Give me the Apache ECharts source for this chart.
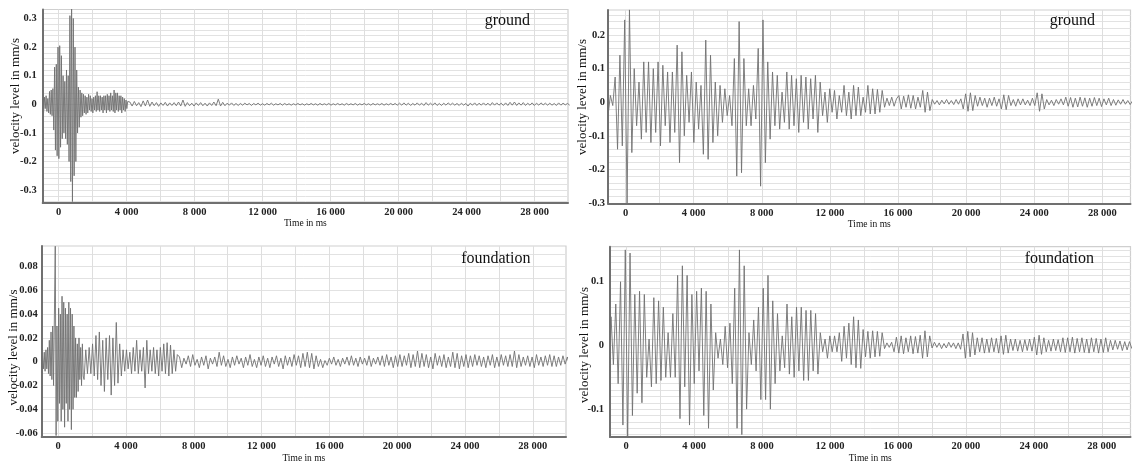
<!DOCTYPE html>
<html><head><meta charset="utf-8">
<script src="https://cdn.jsdelivr.net/npm/echarts@6/dist/echarts.min.js"></script>
<style>html,body{margin:0;padding:0;background:#fff}#c{width:1132px;height:464px}</style>
</head><body><div id="c"></div><script>
// ---------- tick labels ----------
const xTickLabels = [0, 4000, 8000, 12000, 16000, 20000, 24000, 28000];
const groundLeftYLabels = [-0.3, -0.2, -0.1, 0, 0.1, 0.2, 0.3];
const groundRightYLabels = [-0.3, -0.2, -0.1, 0, 0.1, 0.2];
const foundationLeftYLabels = [-0.06, -0.04, -0.02, 0, 0.02, 0.04, 0.06, 0.08];
const foundationRightYLabels = [-0.1, 0, 0.1];
const panelTitles = ['ground', 'ground', 'foundation', 'foundation'];
const xName = 'Time in ms';
const yName = 'velocity level in mm/s';

// ---------- series values (velocity in mm/s, uniform time steps in ms) ----------
// ground, left panel: burst from -940 ms every 50 ms
const groundLeftBurstStart = -940, groundLeftBurstStep = 50;
const groundLeftBurst = [
 0.02,-0.03,0.025,-0.015,0.03,-0.025,0.02,-0.03,0.045,-0.035,0.05,-0.04,
 0.055,-0.09,0.13,-0.16,0.14,-0.18,0.2,-0.19,0.205,-0.15,0.17,-0.12,
 0.1,-0.1,0.08,-0.12,0.12,-0.14,0.1,-0.2,0.31,-0.27,0.335,-0.34,0.3,-0.25,0.2,-0.2,
 0.12,-0.1,0.06,-0.08,0.05,-0.045,0.04,-0.04,0.035,-0.03,0.03,
 -0.035,0.025,-0.03,0.035,-0.02,0.03,-0.025,0.02,-0.03,0.025,
 -0.02,0.03,-0.025,0.044,-0.02,0.03,-0.025,0.03,-0.02,0.025,
 -0.03,0.03,-0.02,0.03,-0.03,0.035,-0.02,0.03,-0.025,0.04,
 -0.02,0.03,-0.025,0.05,-0.03,0.04,-0.02,0.04,-0.025,0.03,
 -0.02,0.03,-0.03,0.025,-0.02,0.02,-0.025,0.015,-0.015,0.01];
// ground, left panel: tail from 4190 ms every 130 ms
const groundLeftTailStart = 4190, groundLeftTailStep = 130;
const groundLeftTail = [
 0.008,-0.006,0.01,-0.005,0.006,-0.008,0.012,-0.006,0.015,-0.007,
 0.008,-0.005,0.006,-0.007,0.005,-0.004,0.007,-0.006,0.005,-0.004,
 0.006,-0.005,0.008,-0.006,0.015,-0.007,0.006,-0.005,0.004,-0.006,
 0.005,-0.004,0.006,-0.005,0.004,-0.006,0.005,-0.004,0.008,-0.005,
 0.018,-0.006,0.007,-0.005,0.004,-0.003,0.005,-0.004,0.003,-0.004,
 0.003,-0.003,0.004,-0.002,0.003,-0.004,0.003,-0.002,0.004,-0.003,
 0.002,-0.003,0.003,-0.002,0.004,-0.003,0.002,-0.002,0.003,-0.003,
 0.003,-0.002,0.002,-0.003,0.002,-0.002,0.003,-0.002,0.002,-0.003,
 0.002,-0.002,0.003,-0.002,0.002,-0.003,0.003,-0.002,0.002,-0.002,
 0.003,-0.003,0.002,-0.002,0.003,-0.002,0.002,-0.003,0.003,-0.002,
 0.002,-0.002,0.003,-0.003,0.002,-0.002,0.003,-0.002,0.002,-0.003,
 0.003,-0.002,0.002,-0.002,0.003,-0.003,0.002,-0.002,0.003,-0.002,
 0.003,-0.003,0.004,-0.003,0.005,-0.003,0.004,-0.004,0.003,-0.003,
 0.005,-0.003,0.004,-0.004,0.006,-0.003,0.004,-0.003,0.005,-0.004,
 0.003,-0.004,0.004,-0.003,0.005,-0.002,0.004,-0.003,0.003,-0.004,
 0.004,-0.003,0.003,-0.006,0.004,-0.003,0.005,-0.004,0.004,-0.003,
 0.005,-0.003,0.004,-0.004,0.006,-0.003,0.005,-0.003,0.004,-0.004,
 0.005,-0.004,0.007,-0.003,0.008,-0.004,0.005,-0.003,0.006,-0.004,
 0.004,-0.003,0.005,-0.004,0.004,-0.003,0.005,-0.002,0.004,-0.003,
 0.004,-0.003,0.003,-0.004,0.005,-0.003,0.004,-0.002,0.003,-0.003];

// ground, right panel: from -1030 ms every 140 ms
const groundRightStart = -1030, groundRightStep = 140;
const groundRight = [
 -0.04,0.02,-0.01,0.075,-0.14,0.14,-0.13,0.245,-0.30,0.275,
 -0.15,0.10,-0.07,0.06,-0.11,0.12,-0.09,0.12,-0.12,0.10,
 -0.09,0.12,-0.13,0.11,-0.07,0.09,-0.12,0.09,-0.09,0.17,
 -0.18,0.15,-0.10,0.08,-0.06,0.09,-0.12,0.06,-0.08,0.05,
 -0.155,0.185,-0.17,0.14,-0.12,0.06,-0.10,0.05,-0.06,0.04,
 -0.04,0.02,-0.07,0.13,-0.22,0.24,-0.21,0.13,-0.07,0.04,
 -0.07,0.05,-0.05,0.16,-0.25,0.245,-0.18,0.12,-0.11,0.09,
 -0.07,0.08,-0.08,0.03,-0.06,0.09,-0.08,0.08,-0.07,0.07,
 -0.09,0.08,-0.06,0.075,-0.08,0.07,-0.05,0.08,-0.09,0.06,
 -0.04,0.03,-0.06,0.04,-0.03,0.035,-0.05,0.02,-0.03,0.05,
 -0.04,0.03,-0.05,0.05,-0.04,0.045,-0.04,0.015,-0.03,0.05,
 -0.035,0.04,-0.035,0.038,-0.03,0.035,-0.015,0.012,-0.01,0.015,
 -0.012,0.01,0.02,-0.02,0.018,-0.015,0.022,-0.018,0.02,-0.02,
 0.015,-0.015,0.035,-0.03,0.03,-0.025,0.008,-0.006,0.005,-0.008,
 0.006,-0.005,0.008,-0.006,0.005,-0.007,0.008,-0.006,0.01,-0.02,
 0.025,-0.027,0.028,-0.025,0.02,-0.012,0.015,-0.01,0.012,-0.015,
 0.012,-0.01,0.015,-0.012,0.01,-0.02,0.022,-0.022,0.02,-0.01,
 0.008,-0.012,0.01,-0.008,0.01,-0.008,0.006,-0.01,0.012,-0.01,
 0.028,-0.027,0.025,-0.02,0.008,-0.008,0.006,-0.01,0.008,-0.006,
 0.01,-0.008,0.015,-0.012,0.014,-0.015,0.012,-0.014,0.015,-0.012,
 0.013,-0.015,0.012,-0.012,0.014,-0.01,0.012,-0.013,0.01,-0.008,
 0.012,-0.01,0.008,-0.009,0.007,-0.006,0.008,-0.006,0.005,-0.007,
 0.004];

// foundation, left panel: burst from -970 ms every 50 ms
const foundationLeftBurstStart = -970, foundationLeftBurstStep = 50;
const foundationLeftBurst = [
 -0.004,0.005,-0.006,0.008,-0.008,0.01,-0.006,0.012,-0.01,0.018,
 -0.012,0.025,-0.015,0.03,-0.02,0.04,0.097,-0.062,0.03,-0.05,
 0.045,-0.035,0.04,-0.05,0.055,-0.04,0.05,-0.055,0.045,-0.035,
 0.04,-0.05,0.05,-0.04,0.045,-0.057,0.04,-0.04,0.03,-0.03,
 0.02,-0.03,0.015,-0.025,0.02,-0.015,0.012,-0.02,0.015,-0.012];
// foundation, left panel: coda from 1530 ms every 100 ms
const foundationLeftCodaStart = 1530, foundationLeftCodaStep = 100;
const foundationLeftCoda = [
 -0.015,0.01,-0.01,0.012,-0.01,0.015,-0.012,0.022,-0.015,0.025,
 -0.02,0.018,-0.025,0.02,-0.015,0.022,-0.028,0.02,-0.02,0.033,
 -0.018,0.015,-0.012,0.01,-0.008,0.01,-0.006,0.008,-0.01,0.012,
 -0.008,0.018,-0.01,0.01,-0.008,0.012,-0.022,0.018,-0.01,0.01,
 -0.008,0.012,-0.01,0.01,-0.012,0.012,-0.008,0.015,-0.01,0.016,
 -0.012,0.014,-0.01,0.01,-0.008,0.006];
// foundation, left panel: tail from 7160 ms every 130 ms
const foundationLeftTailStart = 7160, foundationLeftTailStep = 130;
const foundationLeftTail = [
 0.004,-0.005,0.003,-0.002,0.005,-0.004,0.006,-0.003,0.002,-0.005,
 0.004,-0.003,0.005,-0.006,0.003,-0.002,0.004,-0.004,0.008,-0.003,
 0.005,-0.004,0.002,-0.005,0.004,-0.003,0.005,-0.002,0.003,-0.005,
 0.004,-0.003,0.006,-0.004,0.002,-0.005,0.004,-0.003,0.005,-0.004,
 0.003,-0.005,0.004,-0.002,0.005,-0.004,0.003,-0.006,0.005,-0.003,
 0.004,-0.004,0.006,-0.003,0.005,-0.005,0.007,-0.004,0.008,-0.005,
 0.007,-0.006,0.005,-0.004,0.002,-0.005,0.001,-0.003,0.003,-0.002,
 0.004,-0.003,0.002,-0.004,0.003,-0.002,0.004,-0.003,0.005,-0.003,
 0.003,-0.004,0.004,-0.002,0.003,-0.003,0.005,-0.004,0.003,-0.002,
 0.004,-0.003,0.005,-0.004,0.006,-0.003,0.004,-0.005,0.005,-0.004,
 0.006,-0.004,0.005,-0.003,0.007,-0.005,0.006,-0.004,0.009,-0.005,
 0.007,-0.004,0.006,-0.005,0.004,-0.006,0.007,-0.003,0.005,-0.004,
 0.006,-0.005,0.004,-0.004,0.008,-0.005,0.007,-0.006,0.005,-0.004,
 0.006,-0.005,0.005,-0.004,0.006,-0.003,0.005,-0.004,0.004,-0.005,
 0.005,-0.003,0.006,-0.005,0.004,-0.004,0.006,-0.003,0.005,-0.004,
 0.006,-0.004,0.009,-0.005,0.006,-0.004,0.004,-0.003,0.005,-0.004,
 0.004,-0.005,0.006,-0.003,0.004,-0.004,0.005,-0.003,0.006,-0.004,
 0.005,-0.004,0.004,-0.003,0.005,-0.002,0.004,-0.003,0.004,-0.003];

// foundation, right panel: from -1030 ms every 140 ms
const foundationRightStart = -1030, foundationRightStep = 140;
const foundationRight = [
 -0.04,0.045,-0.03,0.065,-0.06,0.10,-0.125,0.15,-0.145,0.145,
 -0.11,0.08,-0.075,0.085,-0.09,0.08,-0.05,0.01,-0.065,0.075,
 -0.06,0.07,-0.055,0.06,-0.05,0.02,-0.05,0.05,-0.05,0.11,
 -0.115,0.125,-0.065,0.11,-0.125,0.08,-0.06,0.085,-0.04,0.09,
 -0.11,0.085,-0.13,0.065,-0.07,0.02,-0.02,0.01,-0.03,0.03,
 -0.035,0.035,-0.06,0.09,-0.13,0.15,-0.14,0.125,-0.10,0.02,
 -0.03,0.04,-0.04,0.06,-0.085,0.09,-0.085,0.11,-0.10,0.07,
 -0.06,0.05,-0.04,0.015,-0.035,0.065,-0.045,0.045,-0.05,0.06,
 -0.04,0.06,-0.055,0.055,-0.055,0.055,-0.04,0.05,-0.045,0.02,
 -0.01,0.01,-0.02,0.015,-0.01,0.015,-0.01,0.02,-0.025,0.03,
 -0.02,0.035,-0.03,0.045,-0.035,0.04,-0.036,0.025,-0.018,0.022,
 -0.02,0.023,-0.018,0.022,-0.017,0.02,-0.005,0.004,-0.003,0.005,
 -0.01,0.013,-0.012,0.015,-0.013,0.012,-0.01,0.015,-0.013,0.014,
 -0.012,0.016,-0.02,0.023,-0.018,0.015,-0.004,0.005,-0.003,0.004,
 -0.005,0.003,-0.004,0.005,-0.003,0.004,-0.005,0.004,-0.006,0.018,
 -0.02,0.022,-0.018,0.02,-0.015,0.012,-0.01,0.012,-0.012,0.01,
 -0.011,0.012,-0.01,0.011,-0.012,0.015,-0.014,0.016,-0.012,0.01,
 -0.008,0.01,-0.009,0.008,-0.01,0.009,-0.008,0.01,-0.009,0.013,
 -0.015,0.016,-0.014,0.012,-0.01,0.008,-0.009,0.01,-0.008,0.009,
 -0.01,0.012,-0.011,0.012,-0.01,0.013,-0.012,0.011,-0.01,0.012,
 -0.011,0.01,-0.012,0.012,-0.01,0.011,-0.012,0.01,-0.011,0.012,
 -0.01,0.008,-0.007,0.008,-0.006,0.007,-0.008,0.006,-0.007,0.006,
 -0.005];

// ---------- helpers ----------
function toPairs(start, step, vals) { return vals.map((v, i) => [start + i * step, v]); }
function steps(from, to, step) { const out = []; for (let k = 0; from + k * step <= to + 1e-9; k++) out.push(Math.round((from + k * step) * 1e6) / 1e6); return out; }
const fmtX = v => String(v).replace(/\B(?=(\d{3})+(?!\d))/g, ' ');
const fmtY = v => String(Math.round(v * 1000) / 1000);
const FONT = 'Liberation Serif';

const grids = [
  {left: 42.7, top: 9.5, width: 525.3, height: 193.5},
  {left: 608, top: 10, width: 522.5, height: 193.5},
  {left: 41.7, top: 246, width: 524.3, height: 193},
  {left: 610, top: 246.7, width: 520.5, height: 192.3}
].map(g => Object.assign(g, {show: true, borderColor: '#cfcfcf', borderWidth: 1.2, backgroundColor: '#fff'}));

const xRanges = [[-940, 29960], [-1030, 29650], [-970, 29960], [-950, 29690]];
const yRanges = [[-0.345, 0.3315], [-0.3015, 0.2745], [-0.0633, 0.0972], [-0.1439, 0.155]];
const yLabelSets = [groundLeftYLabels, groundRightYLabels, foundationLeftYLabels, foundationRightYLabels];
const yGridSets = [steps(-0.34, 0.32, 0.02), steps(-0.3, 0.26, 0.02), steps(-0.06, 0.09, 0.01), steps(-0.14, 0.15, 0.01)];
const xGridValues = steps(0, 28000, 2000);
const xNameGaps = [9, 9, 13, 14];
const yLabelMargins = [6, 3, 4, 6];

const xAxes = xRanges.map((r, i) => ({
  type: 'value', gridIndex: i, min: r[0], max: r[1],
  name: xName, nameLocation: 'middle', nameGap: xNameGaps[i],
  nameTextStyle: {fontFamily: FONT, fontSize: 9.5, color: '#111'},
  axisLine: {show: true, onZero: false, lineStyle: {color: '#707070', width: 2}},
  axisTick: {show: false, customValues: xGridValues},
  axisLabel: {customValues: xTickLabels, formatter: fmtX, fontFamily: FONT, fontWeight: 'bold', fontSize: 10.5, color: '#222', margin: 4},
  splitLine: {show: true, lineStyle: {color: '#dedede', width: 1}}
}));
const yAxes = yRanges.map((r, i) => ({
  type: 'value', gridIndex: i, min: r[0], max: r[1],
  axisLine: {show: true, onZero: false, lineStyle: {color: '#707070', width: 2}},
  axisTick: {show: false, customValues: yGridSets[i]},
  axisLabel: {customValues: yLabelSets[i], formatter: fmtY, fontFamily: FONT, fontWeight: 'bold', fontSize: 10.5, color: '#222', margin: yLabelMargins[i]},
  splitLine: {show: true, lineStyle: {color: '#e2e2e2', width: 1}}
}));

const lineStyle = {color: '#717171', width: 0.9};
function mkSeries(i, data) {
  return {type: 'line', xAxisIndex: i, yAxisIndex: i, data, symbol: 'none', lineStyle, silent: true, animation: false};
}
const series = [
  mkSeries(0, toPairs(groundLeftBurstStart, groundLeftBurstStep, groundLeftBurst)
    .concat(toPairs(groundLeftTailStart, groundLeftTailStep, groundLeftTail))),
  mkSeries(1, toPairs(groundRightStart, groundRightStep, groundRight)),
  mkSeries(2, toPairs(foundationLeftBurstStart, foundationLeftBurstStep, foundationLeftBurst)
    .concat(toPairs(foundationLeftCodaStart, foundationLeftCodaStep, foundationLeftCoda))
    .concat(toPairs(foundationLeftTailStart, foundationLeftTailStep, foundationLeftTail))),
  mkSeries(3, toPairs(foundationRightStart, foundationRightStep, foundationRight))
];

const yNamePos = [[15.8, 96], [583, 97], [13.7, 347.5], [584.5, 345]];
const titlePos = [[530, 21], [1095, 21], [530.5, 259], [1094, 259]];
const graphic = [];
yNamePos.forEach(p => graphic.push({type: 'text', x: p[0], y: p[1], rotation: Math.PI / 2, silent: true, z: 100,
  style: {text: yName, font: '13px "' + FONT + '"', fill: '#111', align: 'center', verticalAlign: 'middle'}}));
titlePos.forEach((p, i) => graphic.push({type: 'text', x: p[0], y: p[1], silent: true, z: 100,
  style: {text: panelTitles[i], font: '16px "' + FONT + '"', fill: '#111', align: 'right', verticalAlign: 'middle'}}));

const chart = echarts.init(document.getElementById('c'), null, {renderer: 'canvas'});
chart.setOption({
  animation: false,
  backgroundColor: '#fff',
  grid: grids, xAxis: xAxes, yAxis: yAxes, series, graphic
});
</script></body></html>
